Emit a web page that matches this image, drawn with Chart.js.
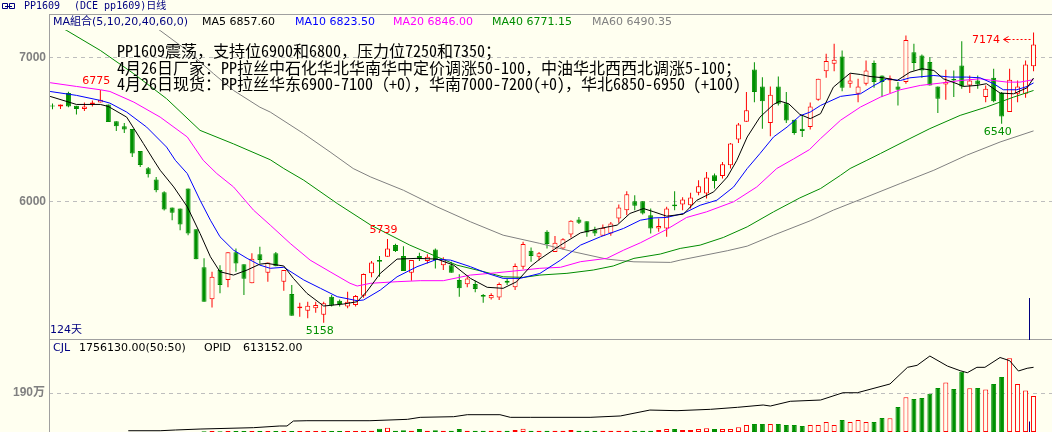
<!DOCTYPE html>
<html><head><meta charset="utf-8">
<script src="https://cdn.jsdelivr.net/npm/chart.js@4.4.1/dist/chart.umd.min.js"></script>
<style>
html,body{margin:0;padding:0;background:#FFFFF0;}
#wrap{position:relative;width:1052px;height:432px;overflow:hidden;background:#FFFFF0;}
#c1{position:absolute;left:0;top:0;width:1052px;height:340px;}
#c2{position:absolute;left:0;top:340px;width:1052px;height:92px;}
</style></head><body>
<div id="wrap"><canvas id="c1" width="1052" height="340"></canvas><canvas id="c2" width="1052" height="92"></canvas></div>
<script>
// ---------------- data ----------------
const open  = [6665,6660,6753,6665,6642,6674,6688,6674,6558,6522,6503,6351,6230,6152,6064,5958,5951,6090,5808,5543,
5321,5524,5454,5647,5565,5432,5633,5505,5640,5443,5358,5258,5241,5259,5213,5339,5311,5270,5281,5346,
5501,5593,5616,5697,5621,5505,5621,5587,5667,5558,5558,5454,5425,5427,5351,5328,5334,5450,5404,5547,
5658,5616,5790,5649,5674,5771,5875,5863,5806,5762,5778,5882,5940,6002,6002,5905,5813,5813,5979,5979,
5974,6060,6055,6182,6177,6252,6430,6554,6917,6799,6545,6799,6683,6568,6506,6517,6707,6905,6956,7007,
6817,6748,6817,6961,6875,6840,6799,6829,7037,7014,6968,6799,6813,6850,6945,6806,6840,6725,6859,6753,
6621,6748,6748,6940];
const high  = [6680,6674,6762,6665,6688,6702,6775,6674,6558,6545,6503,6351,6240,6170,6071,5958,5951,6090,5808,5605,
5512,5558,5647,5674,5565,5640,5686,5577,5650,5524,5420,5297,5304,5304,5304,5351,5320,5373,5350,5500,
5586,5621,5739,5706,5690,5593,5644,5633,5674,5612,5581,5494,5477,5450,5358,5362,5438,5466,5570,5720,
5681,5650,5801,5760,5744,5870,5893,5863,5824,5841,5858,5979,6071,6044,6002,5951,5882,5963,6071,6030,
6060,6148,6205,6194,6274,6406,6545,6760,6967,6863,6799,6868,6760,6568,6598,6688,6852,7026,7095,7049,
6887,6852,6979,6979,6875,6875,6829,7152,7095,7020,7002,6799,6915,6910,7113,6875,6875,6806,6922,6760,
6922,6840,6979,7174];
const low   = [6640,6642,6655,6605,6628,6660,6688,6552,6489,6475,6309,6240,6166,6064,5938,5870,5801,5765,5598,5304,
5263,5362,5404,5512,5351,5432,5570,5443,5551,5380,5207,5200,5189,5228,5158,5270,5270,5259,5270,5332,
5473,5477,5616,5650,5517,5450,5587,5570,5535,5524,5505,5339,5404,5369,5297,5320,5316,5420,5385,5530,
5581,5590,5674,5649,5667,5750,5843,5755,5760,5762,5762,5852,5905,5940,5910,5778,5790,5755,5940,5940,
5951,6044,6021,6090,6160,6229,6406,6554,6690,6506,6453,6667,6545,6464,6448,6500,6700,6859,6905,6766,
6790,6690,6806,6790,6725,6753,6667,6817,6910,6859,6806,6614,6707,6725,6783,6753,6783,6690,6690,6540,
6621,6690,6721,6905];
const close = [6660,6674,6660,6642,6660,6688,6707,6552,6522,6500,6333,6254,6189,6078,5945,5921,5840,5778,5598,5304,
5478,5420,5647,5570,5464,5602,5593,5577,5551,5524,5207,5270,5276,5281,5293,5277,5288,5304,5343,5496,
5577,5581,5674,5656,5517,5593,5598,5616,5593,5598,5505,5397,5466,5392,5339,5351,5427,5436,5552,5704,
5621,5640,5704,5713,5737,5866,5852,5785,5778,5817,5848,5958,6050,5970,5917,5813,5829,5951,5967,6014,
6028,6106,6166,6143,6258,6402,6534,6633,6760,6697,6741,6679,6563,6475,6489,6660,6852,6975,6984,6790,
6840,6799,6910,6829,6829,6856,6776,7122,6961,6910,6806,6714,6829,6840,6799,6840,6813,6783,6697,6591,
6845,6799,6952,7090];
const volume = [2000,2000,2000,2000,2000,2000,2000,2000,2000,2000,2000,2000,2000,2000,2000,2000,2000,2000,2000,40000,
50000,40000,50000,50000,50000,50000,50000,50000,50000,50000,50000,50000,50000,50000,50000,50000,50000,50000,50000,50000,
60000,160000,210000,60000,80000,60000,150000,60000,80000,60000,60000,150000,60000,60000,60000,60000,60000,60000,100000,160000,
60000,60000,60000,60000,60000,100000,60000,60000,60000,60000,60000,60000,60000,60000,60000,60000,100000,150000,150000,100000,
100000,150000,180000,150000,150000,150000,230000,340000,390000,390000,390000,390000,340000,340000,290000,340000,340000,490000,340000,590000,
490000,590000,490000,490000,680000,670000,1220000,1690000,1610000,1660000,1870000,2150000,2420000,2100000,2940000,2130000,2150000,2080000,2340000,2680000,
3600000,2340000,2030000,1756130];
// moving averages: [candle index, value]
const ma5 = [[-0.3,6730],[3,6674],[6,6674],[7,6660],[9.3,6586],[11.4,6402],[12.7,6286],[13.5,6217],[15.2,6101],[16.9,5963],[18.5,5778],[19.8,5616],[21,5512],[22.7,5489],[24.4,5524],[26,5565],[26.9,5570],[29,5552],[30.2,5466],[31.9,5362],[34,5274],[36.5,5288],[38.2,5304],[39.4,5374],[41.1,5501],[43.2,5600],[45.7,5605],[48.2,5600],[50.3,5558],[52.4,5466],[54.5,5404],[56.5,5397],[58.2,5443],[59.9,5547],[61.1,5600],[63.7,5697],[66.2,5782],[68.7,5813],[70.8,5836],[72.4,5917],[74.1,5951],[75.4,5928],[77,5898],[79.1,5912],[80.8,6009],[82.9,6067],[84.6,6170],[85.8,6286],[87.1,6448],[88.7,6586],[90.4,6674],[91.2,6697],[92.3,6679],[93.7,6605],[95,6575],[96.3,6610],[97.9,6794],[100,6891],[101.3,6882],[102.5,6868],[104.2,6859],[105.9,6840],[107.5,6898],[109,6922],[110.5,6910],[111.7,6852],[113.4,6818],[114.2,6799],[115.9,6806],[117.1,6818],[118.8,6753],[120.5,6748],[122.2,6790],[123,6857.6]];
const ma10 = [[-0.3,6764],[3,6737],[6,6702],[7.2,6683],[9.3,6621],[11.8,6517],[14.3,6378],[15.4,6286],[16.9,6194],[18.5,6009],[19.8,5870],[21,5755],[22.7,5662],[24.4,5605],[26,5558],[27.3,5536],[29,5543],[31.5,5455],[33.6,5397],[35.7,5339],[38.2,5311],[39,5316],[41.1,5385],[43.2,5477],[45.7,5547],[48.2,5598],[49.9,5593],[52.4,5547],[54.5,5501],[56.5,5466],[58.6,5466],[61.1,5500],[63.7,5593],[66.2,5697],[68.7,5755],[71.6,5813],[73.7,5870],[75.4,5886],[77,5889],[79.1,5917],[81.2,5974],[83.3,6009],[85.4,6101],[87.1,6229],[88.7,6333],[90.4,6448],[92.1,6517],[93.7,6595],[95,6621],[96.3,6667],[98.8,6730],[101.3,6748],[103,6806],[104.6,6852],[106.3,6840],[107.5,6859],[110.5,6875],[112.6,6864],[114.6,6864],[116.3,6859],[118,6818],[119.2,6776],[120.9,6776],[122.2,6799],[123,6823.5]];
const ma20 = [[-0.3,6825],[3,6799],[6,6776],[7.2,6764],[10.2,6690],[13.5,6586],[16.9,6448],[18.9,6286],[20.6,6194],[22.7,6101],[25.2,5940],[27.3,5836],[29.8,5709],[32.3,5593],[34.8,5512],[37.3,5432],[38.2,5413],[39.9,5432],[43.2,5443],[46.1,5450],[49,5450],[52.4,5489],[55.7,5505],[59.1,5524],[61.1,5536],[63.7,5543],[66.2,5582],[69.5,5605],[71.6,5662],[73.7,5713],[77,5806],[79.5,5889],[82,5928],[85.4,5998],[88.3,6101],[90.8,6229],[92.9,6295],[94.9,6360],[96.3,6437],[98.8,6564],[101.3,6656],[103.8,6725],[106.3,6776],[108.8,6806],[111.3,6822],[113.8,6840],[116.3,6852],[118,6840],[119.7,6829],[121.3,6829],[123,6846]];
const ma40 = [[0,7240],[1.8,7187],[6,7049],[10.2,6887],[14.3,6714],[18.5,6494],[22.7,6400],[27.3,6290],[29,6229],[31.5,6148],[35.7,5986],[39.9,5836],[44.8,5697],[48.2,5616],[50.7,5558],[54.1,5512],[56.5,5477],[59.1,5473],[61.1,5489],[64.5,5501],[67.8,5524],[70.3,5552],[72.9,5605],[76.2,5635],[78.7,5674],[81.2,5697],[84.1,5750],[87.1,5824],[90.4,5928],[93.7,6025],[96.3,6090],[98.8,6182],[100,6229],[102.1,6286],[103.8,6333],[107.5,6437],[110,6506],[113.8,6598],[117.1,6656],[120.5,6725],[123,6771.15]];
const ma60 = [[10,7330],[13.5,7187],[16.9,7048],[20.2,6887],[22.7,6771],[26,6655],[27.3,6621],[31.5,6471],[34.8,6344],[37.7,6229],[39.9,6170],[44,6078],[48.2,5963],[52.4,5859],[56.5,5766],[61.1,5709],[65.3,5651],[69.5,5600],[72.9,5581],[77.5,5577],[78.7,5593],[84.6,5658],[87.1,5690],[90.4,5766],[95,5866],[97.9,5940],[102.1,6032],[106.3,6125],[110.5,6217],[114.6,6321],[118.8,6413],[123,6490.35]];
const opid = [[9.5,12000],[13.5,12000],[15.4,19000],[18.5,28000],[25.2,41000],[28.5,57000],[29.4,57000],[30.2,104000],[31.9,107000],[39.8,107000],[44.5,120000],[46.1,139000],[50.3,145000],[52,164000],[56.1,164000],[57.4,139000],[59.9,139000],[67.4,139000],[71.2,152000],[74.9,208000],[78.3,202000],[82.5,215000],[85.9,234000],[89.1,256000],[90,246000],[92.5,291000],[96.3,303000],[99.1,372000],[100.9,372000],[105,455000],[107.2,613000],[108.4,632000],[110,720000],[112.2,625000],[113.8,581000],[114.7,562000],[115.9,613000],[116.9,613000],[118.8,706000],[120,676000],[121.1,578000],[122.2,604000],[123,613152]];
const priceTicks = [6000, 7000];
const volTicks = [1900000];
const maNames = ['MA5','MA10','MA20','MA40','MA60'];
const maLast = ['6857.60','6823.50','6846.00','6771.15','6490.35'];
const markIdx = [6, 42, 34, 119, 123];
const markVal = [6775, 5739, 5158, 6540, 7174];
const noteLines = [
 'PP1609震荡，支持位6900和6800，压力位7250和7350；',
 '4月26日厂家：PP拉丝中石化华北华南华中定价调涨50-100，中油华北西西北调涨5-100；',
 '4月26日现货：PP拉丝华东6900-7100（+0），华南7000-7200(+0)，华北6850-6950 (+100)'
];
const titleCode = 'PP1609', titleName = '(DCE pp1609)日线', dayCount = '124天';

// ---------------- styling ----------------
const BG = '#FFFFF0', RED = '#FF0000', GREEN = '#009000', NAVY = '#000080', AXIS = '#A0A0A0', GRID = '#BEBEBE';
const maColors = ['#000000', '#0000FF', '#FF00FF', '#008C00', '#808080'];
const XMIN = -0.4388, XMAX = 125.3134;
const idx = open.map((_, i) => i);
const isUp = i => close[i] >= open[i];
const pts = arr => arr.map(p => ({x: p[0], y: p[1]}));
const SANS = '"DejaVu Sans", "Noto Sans CJK SC", sans-serif';

function fixAxis(w) { return s => { s.width = w; s.paddingTop = 0; s.paddingBottom = 0; }; }

const lineDs = (arr, col, extra) => Object.assign({type: 'line', data: pts(arr), borderColor: col, borderWidth: 1,
  pointRadius: 0, tension: 0, order: -1, fill: false}, extra || {});

// ---------------- main (price) chart ----------------
const plugA = {
  id: 'plugA',
  afterDraw(chart) {
    const c = chart.ctx, xs = chart.scales.x, ys = chart.scales.y, ca = chart.chartArea;
    c.save();
    c.setLineDash([]);
    c.strokeStyle = AXIS; c.lineWidth = 1;
    c.beginPath();
    c.moveTo(49, 14.5); c.lineTo(1052, 14.5);
    c.moveTo(49, 339.5); c.lineTo(1052, 339.5);
    c.moveTo(49.5, 14); c.lineTo(49.5, 340);
    c.stroke();
    // title icon
    c.strokeStyle = NAVY;
    c.beginPath();
    c.rect(2.5, 3.5, 5, 5); c.rect(9.5, 3.5, 5, 5);
    c.moveTo(5, 6.5); c.lineTo(12, 6.5);
    c.stroke();
    c.textBaseline = 'middle'; c.textAlign = 'left';
    c.fillStyle = NAVY;
    c.font = '10px "DejaVu Sans Mono", "Noto Sans CJK SC", monospace';
    c.fillText(titleCode, 24, 6.5);
    c.fillText(titleName, 74, 6.5);
    // MA legend row
    c.font = '11px ' + SANS;
    c.fillStyle = NAVY;
    c.fillText('MA組合(5,10,20,40,60,0)', 53, 22);
    const lx = [202, 295, 393, 492, 592];
    maNames.forEach((n, k) => { c.fillStyle = maColors[k]; c.fillText(n + ' ' + maLast[k], lx[k], 22); });
    // notes
    c.fillStyle = '#000000';
    c.font = '16px "Noto Sans Mono CJK SC", "Noto Sans CJK SC", monospace';
    noteLines.forEach((t, k) => c.fillText(t, 117, 51 + k * 16.7));
    // high / low marks
    c.font = '11px ' + SANS;
    markIdx.forEach((i, k) => {
      const v = markVal[k], isHigh = v === high[i];
      const px = xs.getPixelForValue(i), py = ys.getPixelForValue(v);
      c.fillStyle = isHigh ? RED : GREEN;
      c.strokeStyle = c.fillStyle;
      if (isHigh && py - 9 < ca.top + 6) {
        c.textAlign = 'right';
        c.fillText(String(v), px - 33.5, py + 7.5);
        const ay = Math.round(py + 7) + 0.5;
        c.beginPath(); c.setLineDash([2, 2]);
        c.moveTo(px - 25, ay); c.lineTo(px - 2, ay); c.stroke();
        c.setLineDash([]);
        c.beginPath(); c.moveTo(px - 30, ay); c.lineTo(px - 25, ay - 3); c.moveTo(px - 30, ay); c.lineTo(px - 25, ay + 3);
        c.moveTo(px - 30, ay); c.lineTo(px - 24, ay); c.stroke();
      } else {
        c.textAlign = 'center';
        c.fillText(String(v), px - 4, isHigh ? py - 9 : py + 8.5);
      }
    });
    c.textAlign = 'left';
    c.fillStyle = NAVY;
    c.fillText(dayCount, 50, 330);
    // cursor marker
    c.strokeStyle = NAVY; c.beginPath(); c.moveTo(1029.5, 298); c.lineTo(1029.5, 340); c.stroke();
    c.restore();
  }
};

new Chart(document.getElementById('c1'), {
  data: {
    datasets: [
      lineDs(ma5, maColors[0]),
      lineDs(ma10, maColors[1]),
      lineDs(ma20, maColors[2]),
      lineDs(ma40, maColors[3]),
      lineDs(ma60, maColors[4]),
      { type: 'bar', order: 0, grouped: false, barThickness: 5, minBarLength: 1, inflateAmount: 0,
        data: idx.map(i => ({x: i, y: [open[i], close[i]]})),
        borderWidth: 1, borderSkipped: false,
        borderColor: ctx => isUp(ctx.dataIndex) ? RED : GREEN,
        backgroundColor: ctx => isUp(ctx.dataIndex) ? BG : GREEN },
      { type: 'bar', order: 1, grouped: false, barThickness: 1, inflateAmount: 0,
        data: idx.map(i => ({x: i, y: [low[i], high[i]]})),
        borderWidth: 0,
        backgroundColor: ctx => isUp(ctx.dataIndex) ? RED : GREEN }
    ]
  },
  options: {
    responsive: false, animation: false, events: [],
    layout: { padding: { top: 30, bottom: 1, left: 0, right: 0 } },
    plugins: { legend: { display: false }, tooltip: { enabled: false } },
    scales: {
      x: { type: 'linear', min: XMIN, max: XMAX, offset: false, display: false },
      y: { type: 'linear', position: 'left', min: 5045, max: 7191,
        afterBuildTicks: s => { s.ticks = priceTicks.map(v => ({value: v})); },
        afterFit: fixAxis(49),
        grid: { color: GRID, lineWidth: 1, drawTicks: false },
        border: { display: false, dash: [4, 4] },
        ticks: { color: '#808080', padding: 3, font: { family: '"Liberation Sans", Arial', size: 12, weight: 'bold' },
          callback: v => String(v) } }
    }
  },
  plugins: [plugA]
});

// ---------------- volume chart ----------------
const plugB = {
  id: 'plugB',
  afterDraw(chart) {
    const c = chart.ctx;
    c.save();
    c.strokeStyle = AXIS; c.lineWidth = 1;
    c.beginPath(); c.moveTo(49.5, 0); c.lineTo(49.5, 92); c.stroke();
    c.textBaseline = 'middle'; c.textAlign = 'left';
    c.font = '11px ' + SANS;
    c.fillStyle = NAVY; c.fillText('CJL', 53, 8.5);
    c.fillStyle = '#000000';
    c.fillText(volume[volume.length - 1].toFixed(2) + '(50:50)', 79, 8.5);
    c.fillText('OPID', 204, 8.5);
    c.fillText(opid[opid.length - 1][1].toFixed(2), 243, 8.5);
    c.strokeStyle = NAVY; c.beginPath(); c.moveTo(1029.5, 81.5); c.lineTo(1029.5, 92); c.stroke();
    c.restore();
  }
};

new Chart(document.getElementById('c2'), {
  data: {
    datasets: [
      lineDs(opid, '#000000', { yAxisID: 'y2' }),
      { type: 'bar', order: 0, grouped: false, barThickness: 5, inflateAmount: 0, yAxisID: 'y',
        data: idx.map(i => ({x: i, y: volume[i]})),
        borderWidth: 1, borderSkipped: false,
        borderColor: ctx => isUp(ctx.dataIndex) ? RED : GREEN,
        backgroundColor: ctx => isUp(ctx.dataIndex) ? BG : GREEN }
    ]
  },
  options: {
    responsive: false, animation: false, events: [],
    layout: { padding: 0 },
    plugins: { legend: { display: false }, tooltip: { enabled: false } },
    scales: {
      x: { type: 'linear', min: XMIN, max: XMAX, offset: false, display: false },
      y: { type: 'linear', position: 'left', min: 0, max: 4490000,
        afterBuildTicks: s => { s.ticks = volTicks.map(v => ({value: v})); },
        afterFit: fixAxis(49),
        grid: { color: GRID, lineWidth: 1, drawTicks: false },
        border: { display: false, dash: [4, 4] },
        ticks: { color: '#808080', padding: 4, font: { family: '"Liberation Sans", "Noto Sans CJK SC", Arial', size: 12, weight: 'bold' },
          callback: v => (v / 10000) + '万' } },
      y2: { type: 'linear', display: false, min: 0, max: 871900 }
    }
  },
  plugins: [plugB]
});
</script></body></html>
